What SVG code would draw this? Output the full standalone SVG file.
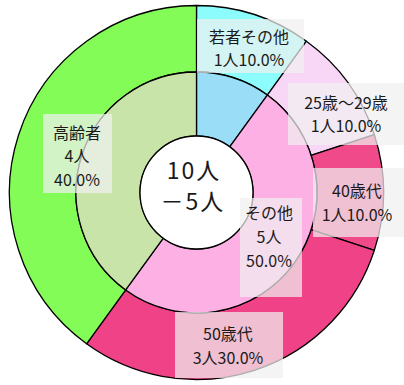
<svg xmlns="http://www.w3.org/2000/svg" width="404" height="385" viewBox="0 0 404 385">
<style>
.seg{stroke:#000;stroke-width:1.3;stroke-linejoin:round}
.box{fill:#F0F0F0;fill-opacity:0.72;stroke:none}
text{font-family:"Noto Sans CJK JP","Noto Sans",sans-serif;fill:#1a1a1a;text-anchor:middle;dominant-baseline:central}
.lb{font-size:16px}
.ct{font-size:23px;letter-spacing:2px}
</style>
<rect width="404" height="385" fill="#fff"/>
<g id="outer-ring">
<path id="outer-wakamono" class="seg" fill="#8CFCFC" d="M196.5,5.5 A187,187 0 0 1 306.42,41.21 L267.33,95.01 A120.5,120.5 0 0 0 196.5,72 Z"/>
<path id="outer-25-29" class="seg" fill="#F8D6F6" d="M306.42,41.21 A187,187 0 0 1 374.35,134.71 L311.1,155.26 A120.5,120.5 0 0 0 267.33,95.01 Z"/>
<path id="outer-40" class="seg" fill="#F04A8A" d="M374.35,134.71 A187,187 0 0 1 374.35,250.29 L311.1,229.74 A120.5,120.5 0 0 0 311.1,155.26 Z"/>
<path id="outer-50" class="seg" fill="#F04286" d="M374.35,250.29 A187,187 0 0 1 86.58,343.79 L125.67,289.99 A120.5,120.5 0 0 0 311.1,229.74 Z"/>
<path id="outer-koreisha" class="seg" fill="#84FC58" d="M86.58,343.79 A187,187 0 0 1 196.5,5.5 L196.5,72 A120.5,120.5 0 0 0 125.67,289.99 Z"/>
</g>
<g id="inner-ring">
<path id="inner-wakamono" class="seg" fill="#99DDF7" d="M196.5,72 A120.5,120.5 0 0 1 267.33,95.01 L229.71,146.79 A56.5,56.5 0 0 0 196.5,136 Z"/>
<path id="inner-sonota" class="seg" fill="#FDB0E4" d="M267.33,95.01 A120.5,120.5 0 0 1 293.99,263.33 A120.5,120.5 0 0 1 125.67,289.99 L163.29,238.21 A56.5,56.5 0 0 0 242.21,225.71 A56.5,56.5 0 0 0 229.71,146.79 Z"/>
<path id="inner-koreisha" class="seg" fill="#C8E4A8" d="M125.67,289.99 A120.5,120.5 0 0 1 196.5,72 L196.5,136 A56.5,56.5 0 0 0 163.29,238.21 Z"/>
<circle id="hole" class="seg" cx="196.5" cy="192.5" r="56.5" fill="#fff"/>
</g>
<g id="center-label">
<text class="ct" x="194" y="169">10人</text>
<text class="ct" x="193" y="200">－5人</text>
</g>
<g id="label-wakamono">
<rect class="box" x="197" y="19" width="107" height="54"/>
<text class="lb" x="249" y="36">若者その他</text>
<text class="lb" x="249" y="59">1人10.0%</text>
</g>
<g id="label-25-29">
<rect class="box" x="288" y="83" width="116" height="62"/>
<text class="lb" x="346" y="102">25歳～29歳</text>
<text class="lb" x="346" y="125">1人10.0%</text>
</g>
<g id="label-40">
<rect class="box" x="313" y="168" width="91" height="69"/>
<text class="lb" x="357" y="190">40歳代</text>
<text class="lb" x="357" y="214">1人10.0%</text>
</g>
<g id="label-sonota">
<rect class="box" x="240" y="198" width="62" height="99"/>
<text class="lb" x="269" y="212">その他</text>
<text class="lb" x="269" y="236">5人</text>
<text class="lb" x="269" y="260">50.0%</text>
</g>
<g id="label-50">
<rect class="box" x="175" y="312" width="108" height="66"/>
<text class="lb" x="228" y="333">50歳代</text>
<text class="lb" x="228" y="357">3人30.0%</text>
</g>
<g id="label-koreisha">
<rect class="box" x="43" y="114" width="69" height="79"/>
<text class="lb" x="77" y="132">高齢者</text>
<text class="lb" x="77" y="155">4人</text>
<text class="lb" x="77" y="179">40.0%</text>
</g>
</svg>
